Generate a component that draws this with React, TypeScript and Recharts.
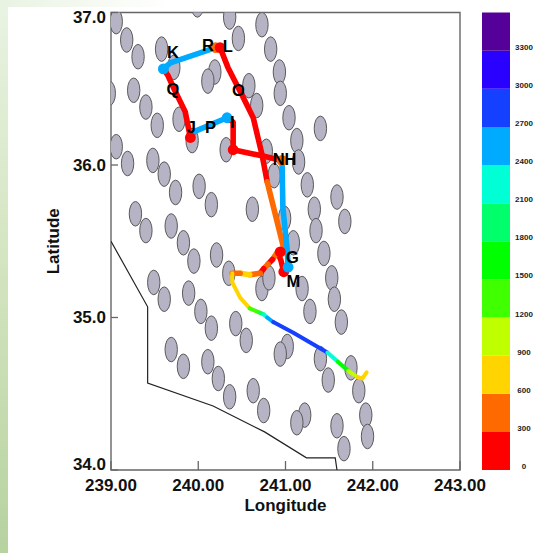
import { Bar, BarChart, ReferenceArea, Scatter, ScatterChart, XAxis, YAxis } from 'recharts';

const FONT = '"Liberation Sans", Arial, sans-serif';

const lonTicks = [239, 240, 241, 242, 243];
const latTicks = [34, 35, 36, 37];

// instrument sites
const siteLon = [
  239.06, 239.18, 239.31, 239.58, 239.72, 240.19, 240.11, 239.26, 238.98, 239.4, 239.53, 239.78, 239.93, 239.06, 239.19,
  239.48, 240.32, 240.58, 240.67, 240.36, 240.46, 240.73, 240.83, 240.93, 240.94, 241.04, 241.4, 241.13, 240.78, 241.15,
  240.87, 241.25, 241.59, 241.33, 241.68, 241.35, 240.99, 241.09, 241.44, 241.53, 241.19, 241.56, 241.28, 241.64, 239.61,
  239.74, 240.01, 240.15, 240.62, 239.28, 239.4, 239.69, 239.83, 239.95, 240.21, 240.35, 239.49, 239.61, 239.89, 240.03,
  240.15, 240.43, 240.55, 240.73, 240.81, 241.02, 240.94, 241.4, 241.75, 241.49, 241.84, 240.75, 241.22, 241.13, 241.59,
  241.92, 241.94, 241.67, 239.69, 239.83, 240.11, 240.23, 240.36, 240.63, 239.99,
];
const siteLat = [
  36.94, 36.82, 36.71, 36.76, 36.64, 36.61, 36.55, 36.49, 36.47, 36.38, 36.26, 36.3, 36.16, 36.12, 36.01,
  36.03, 36.1, 36.52, 36.39, 36.97, 36.83, 36.92, 36.76, 36.61, 36.47, 36.31, 36.24, 36.16, 36.09, 36.02,
  35.93, 35.87, 35.79, 35.71, 35.63, 35.57, 35.65, 35.49, 35.42, 35.26, 35.19, 35.12, 35.04, 34.97, 35.94,
  35.82, 35.86, 35.74, 35.71, 35.68, 35.57, 35.6, 35.49, 35.37, 35.41, 35.29, 35.23, 35.12, 35.16, 35.04,
  34.93, 34.96, 34.85, 35.19, 35.26, 34.81, 34.76, 34.73, 34.67, 34.59, 34.52, 34.39, 34.36, 34.31, 34.29,
  34.36, 34.22, 34.14, 34.79, 34.68, 34.71, 34.6, 34.48, 34.52, 37.05,
];

const boundaryLon = [239.0, 239.42, 239.42, 240.17, 240.76, 241.24, 241.57, 241.59];
const boundaryLat = [35.5, 35.07, 34.57, 34.42, 34.25, 34.08, 34.08, 34.0];

// flight legs, each with the altitude it was flown at
const legLon = [
  [239.6, 239.68, 240.2],
  [239.6, 239.65, 239.73, 239.85, 239.91],
  [239.91, 239.96, 240.33],
  [240.33, 240.4, 240.4, 240.73, 240.96],
  [240.25, 240.34, 240.5, 240.63, 240.73, 240.79],
  [240.79, 240.99],
  [240.96, 240.97, 241.02, 241.03, 240.98],
  [240.98, 240.95, 240.91],
  [240.91, 240.85],
  [240.85, 240.8],
  [240.8, 240.75],
  [240.75, 240.71],
  [240.71, 240.59],
  [240.59, 240.48],
  [240.48, 240.39],
  [240.39, 240.39, 240.48, 240.59],
  [240.59, 240.71],
  [240.71, 240.75],
  [240.75, 240.79],
  [240.79, 240.86],
  [240.86, 241.09, 241.48],
  [241.48, 241.6],
  [241.6, 241.72],
  [241.72, 241.82],
  [241.82, 241.88, 241.93],
];
const legLat = [
  [36.63, 36.67, 36.77],
  [36.63, 36.59, 36.49, 36.35, 36.18],
  [36.18, 36.22, 36.31],
  [36.31, 36.28, 36.1, 36.06, 36.03],
  [36.77, 36.64, 36.46, 36.31, 36.07, 35.89],
  [35.89, 35.43],
  [36.03, 35.72, 35.44, 35.33, 35.3],
  [35.3, 35.37, 35.43],
  [35.43, 35.38],
  [35.38, 35.35],
  [35.35, 35.32],
  [35.32, 35.29],
  [35.29, 35.28],
  [35.28, 35.29],
  [35.29, 35.29],
  [35.29, 35.23, 35.13, 35.06],
  [35.06, 35.03],
  [35.03, 35.02],
  [35.02, 35.0],
  [35.0, 34.97],
  [34.97, 34.9, 34.77],
  [34.77, 34.71],
  [34.71, 34.65],
  [34.65, 34.61],
  [34.61, 34.6, 34.64],
];
const legAlt = [2550, 150, 2550, 150, 150, 450, 2550, 150, 450, 150, 450, 150, 450, 750, 450, 750, 1350, 1950, 2250, 2550, 2850, 2250, 1650, 1050, 750];
const LOWER_LEG_START = 15;

// turning points of the flight
const turnLon = [239.6, 239.91, 240.2, 240.25, 240.33, 240.4, 240.96, 240.98, 240.94, 241.03];
const turnLat = [36.63, 36.18, 36.77, 36.77, 36.31, 36.1, 36.03, 35.3, 35.43, 35.33];
const turnAlt = [2550, 150, 450, 150, 2550, 150, 450, 150, 150, 2550];

const markNames = ['K', 'R', 'L', 'Q', 'O', 'J', 'P', 'I', 'NH', 'G', 'M'];
const markLon = [239.71, 240.11, 240.34, 239.71, 240.46, 239.92, 240.14, 240.39, 240.99, 241.08, 241.09];
const markLat = [36.74, 36.79, 36.78, 36.5, 36.49, 36.25, 36.25, 36.28, 36.04, 35.4, 35.24];

const bandColors = ['#ff0000', '#ff6a00', '#ffd400', '#bfff00', '#40ff00', '#00ff00', '#00ff6a', '#00ffd4', '#00aaff', '#1540ff', '#2a00ff', '#550099'];
const bandTicks = [0, 300, 600, 900, 1200, 1500, 1800, 2100, 2400, 2700, 3000, 3300];
const BAND_STEP = 300;

const colorFor = (alt: number) => bandColors[Math.floor(alt / BAND_STEP)];
const zip = (lon: number[], lat: number[]) => lon.map((v, i) => ({ lon: v, lat: lat[i] }));

const sites = zip(siteLon, siteLat);
const boundary = zip(boundaryLon, boundaryLat);
const marks = markNames.map((name, i) => ({ name, lon: markLon[i], lat: markLat[i] }));
const bandRow: Record<string, number | string> = { name: 'altitude' };
bandColors.forEach((_c, i) => {
  bandRow[`b${i}`] = BAND_STEP;
});

const Nothing = () => null;

const SiteShape = ({ cx, cy }: any) => (
  <ellipse cx={cx} cy={cy} rx={6.2} ry={12.3} fill="#b6b3c5" stroke="#5a5a5a" strokeWidth={1} />
);

const MarkShape = ({ cx, cy, payload }: any) => (
  <text x={cx} y={cy} textAnchor="middle" dominantBaseline="central" fontFamily={FONT} fontSize={16.5} fontWeight="bold" fill="#000">
    {payload.name}
  </text>
);

const LonTick = ({ x, y, payload }: any) => (
  <g>
    <line x1={x} x2={x} y1={y} y2={y - 9} stroke="#666" strokeWidth={1.3} />
    <text x={x} y={y + 15.5} textAnchor="middle" dominantBaseline="central" fontFamily={FONT} fontSize={17} fontWeight="bold" fill="#111">
      {payload.value.toFixed(2)}
    </text>
  </g>
);

const LatTick = ({ x, y, payload }: any) => {
  // the end labels are pulled in so they stay beside the frame
  const nudge = payload.value === 34 ? -6 : payload.value === 37 ? 4.5 : 0;
  return (
    <g>
      <line x1={x} x2={x + 7} y1={y} y2={y} stroke="#666" strokeWidth={1.3} />
      <text x={x - 5} y={y + nudge} textAnchor="end" dominantBaseline="central" fontFamily={FONT} fontSize={17} fontWeight="bold" fill="#111">
        {payload.value.toFixed(1)}
      </text>
    </g>
  );
};

const BandTick = ({ x, y, payload }: any) => (
  <text x={x + 14} y={y - 3.5} textAnchor="middle" dominantBaseline="central" fontFamily={FONT} fontSize={8} fontWeight="bold" fill="#222">
    {payload.value}
  </text>
);

function FlightMap() {
  return (
    <ScatterChart width={548} height={553} margin={{ top: 12.5, right: 88, bottom: 0, left: 0 }}>
      <XAxis
        type="number"
        dataKey="lon"
        domain={[239, 243]}
        ticks={lonTicks}
        interval={0}
        allowDataOverflow
        height={83}
        axisLine={false}
        tickLine={false}
        tickSize={0}
        tickMargin={0}
        tick={LonTick}
        label={{ value: 'Longitude', position: 'insideTop', offset: 29, fontFamily: FONT, fontSize: 17, fontWeight: 'bold', fill: '#111' }}
      />
      <YAxis
        type="number"
        dataKey="lat"
        domain={[34, 37]}
        ticks={latTicks}
        interval={0}
        allowDataOverflow
        width={111}
        axisLine={false}
        tickLine={false}
        tickSize={0}
        tickMargin={0}
        tick={LatTick}
        label={{ value: 'Latitude', angle: -90, position: 'insideLeft', offset: 53, fontFamily: FONT, fontSize: 17, fontWeight: 'bold', fill: '#111', style: { textAnchor: 'middle' } }}
      />

      <Scatter data={sites} shape={SiteShape} isAnimationActive={false} />
      <Scatter data={boundary} shape={Nothing} line={{ stroke: '#222', strokeWidth: 1.2 }} isAnimationActive={false} />

      {legAlt.map((alt, i) => (
        <Scatter
          key={i}
          data={zip(legLon[i], legLat[i])}
          shape={Nothing}
          line={{ stroke: colorFor(alt), strokeWidth: i < LOWER_LEG_START ? 5.6 : 4, strokeLinecap: 'round', strokeLinejoin: 'round' }}
          isAnimationActive={false}
        />
      ))}
      {turnAlt.map((alt, i) => (
        <Scatter
          key={`turn-${i}`}
          data={[{ lon: turnLon[i], lat: turnLat[i] }]}
          shape={({ cx, cy }: any) => <circle cx={cx} cy={cy} r={5.4} fill={colorFor(alt)} />}
          isAnimationActive={false}
        />
      ))}

      <Scatter data={marks} shape={MarkShape} isAnimationActive={false} />
      <ReferenceArea x1={239} x2={243} y1={34} y2={37} fill="none" stroke="#666" strokeWidth={1.4} />
    </ScatterChart>
  );
}

function AltitudeBar() {
  return (
    <BarChart width={66} height={480} data={[bandRow]} margin={{ top: 12.5, right: 0, bottom: 10, left: 0 }} barCategoryGap={0}>
      <XAxis hide dataKey="name" />
      <YAxis
        orientation="right"
        type="number"
        domain={[0, BAND_STEP * bandColors.length]}
        ticks={bandTicks}
        interval={0}
        width={38}
        axisLine={false}
        tickLine={false}
        tickSize={0}
        tickMargin={0}
        tick={BandTick}
      />
      {bandColors.map((color, i) => (
        <Bar key={color} dataKey={`b${i}`} stackId="alt" fill={color} isAnimationActive={false} />
      ))}
    </BarChart>
  );
}

export default function App() {
  return (
    <div style={{ position: 'absolute', left: 0, top: 0, width: 548, height: 553, background: '#fff', overflow: 'hidden' }}>
      <div style={{ position: 'absolute', left: 0, top: 0, width: 8, height: 553, background: 'linear-gradient(#e9f3e2, #cfe2bb 55%, #b6d29f)' }} />
      <div style={{ position: 'absolute', left: 0, top: 0, width: 170, height: 7, background: 'linear-gradient(90deg, #e9f3e2, #ffffff)' }} />
      <div style={{ position: 'absolute', left: 0, top: 0 }}>
        <FlightMap />
      </div>
      <div style={{ position: 'absolute', left: 482, top: 0 }}>
        <AltitudeBar />
      </div>
    </div>
  );
}
